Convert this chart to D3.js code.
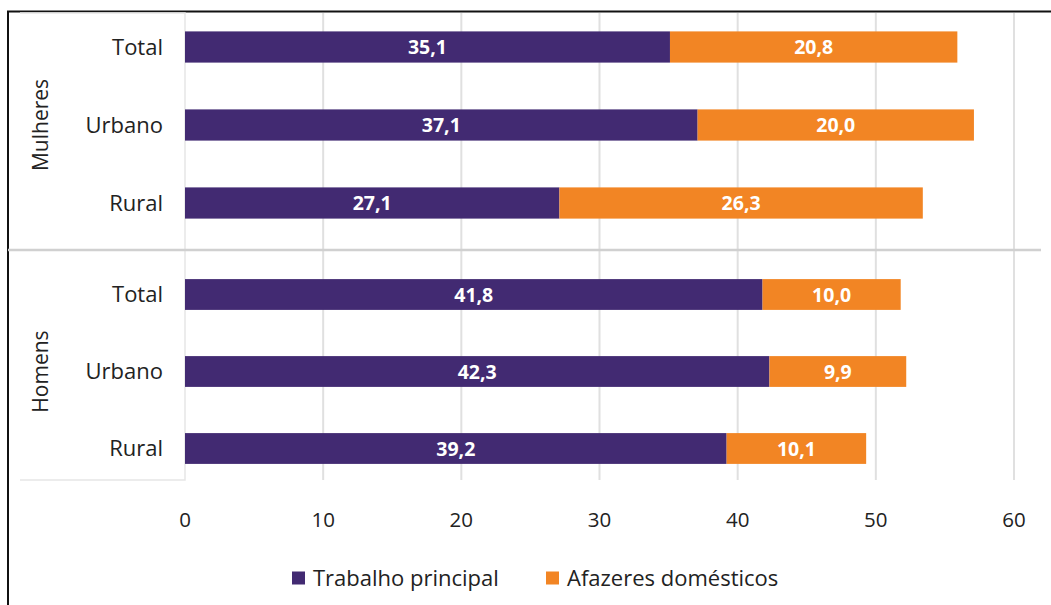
<!DOCTYPE html>
<html>
<head>
<meta charset="utf-8">
<script src="https://cdn.jsdelivr.net/npm/d3@7"></script>
<style>
    body { margin: 0; background: #fff; }
    svg { display: block; font-family: "Open Sans", "Noto Sans", sans-serif; }
</style>
</head>
<body>
<div id="chart"></div>
<script>
// data
var groups = ["Mulheres", "Homens"];
var categories = ["Total", "Urbano", "Rural"];
var trabalho = [35.1, 37.1, 27.1, 41.8, 42.3, 39.2];
var afazeres = [20.8, 20.0, 26.3, 10.0, 9.9, 10.1];
var xTicks = [0, 10, 20, 30, 40, 50, 60];
var seriesNames = ["Trabalho principal", "Afazeres domésticos"];
var colors = ["#422a72", "#f28524"];

var width = 1051, height = 605;
var plotTop = 13, plotBottom = 480, axisX = 185;
var groupRanges = [[8, 242], [256, 487]];
var textColor = "#222";

var ptBR = d3.formatLocale({ decimal: ",", thousands: ".", grouping: [3], currency: ["R$", ""] });
var fmt = ptBR.format(".1f");

var svg = d3.select("#chart").append("svg")
    .attr("width", width)
    .attr("height", height);

var x = d3.scaleLinear().domain([0, 60]).range([axisX, 1014]);

// frame (top + left border)
svg.append("path")
    .attr("d", "M8," + height + "V11.5H" + width)
    .attr("fill", "none")
    .attr("stroke", "#111")
    .attr("stroke-width", 2);

// vertical grid lines
svg.append("g").selectAll("line")
    .data(xTicks.slice(1))
    .join("line")
    .attr("x1", function (d) { return x(d); })
    .attr("x2", function (d) { return x(d); })
    .attr("y1", plotTop)
    .attr("y2", plotBottom)
    .attr("stroke", "#e0e0e0")
    .attr("stroke-width", 2);

// y axis line + left panel bottom
svg.append("path")
    .attr("d", "M20," + plotTop + "H" + axisX + "V" + plotBottom + "H20")
    .attr("fill", "none")
    .attr("stroke", "#e6e6e6")
    .attr("stroke-width", 1.5);

// group separator
svg.append("line")
    .attr("x1", 8).attr("x2", 1041)
    .attr("y1", 250).attr("y2", 250)
    .attr("stroke", "#d0d0d0")
    .attr("stroke-width", 2.5);

groups.forEach(function (g, gi) {
    var y = d3.scaleBand()
        .domain(categories)
        .range(groupRanges[gi])
        .paddingInner(0.6)
        .paddingOuter(0.3);

    var rows = categories.map(function (c, ci) {
        var k = gi * categories.length + ci;
        return { cat: c, a: trabalho[k], b: afazeres[k] };
    });

    var gEl = svg.append("g");

    // purple segment
    gEl.selectAll("rect.a")
        .data(rows)
        .join("rect")
        .attr("class", "a")
        .attr("x", x(0))
        .attr("y", function (d) { return y(d.cat); })
        .attr("width", function (d) { return x(d.a) - x(0); })
        .attr("height", y.bandwidth())
        .attr("fill", colors[0]);

    // orange segment
    gEl.selectAll("rect.b")
        .data(rows)
        .join("rect")
        .attr("class", "b")
        .attr("x", function (d) { return x(d.a); })
        .attr("y", function (d) { return y(d.cat); })
        .attr("width", function (d) { return x(d.a + d.b) - x(d.a); })
        .attr("height", y.bandwidth())
        .attr("fill", colors[1]);

    // value labels
    gEl.selectAll("text.va")
        .data(rows)
        .join("text")
        .attr("x", function (d) { return (x(0) + x(d.a)) / 2; })
        .attr("y", function (d) { return y(d.cat) + y.bandwidth() / 2; })
        .attr("dy", "0.36em")
        .attr("text-anchor", "middle")
        .attr("fill", "#fff")
        .attr("font-weight", "bold")
        .attr("font-size", 19.5)
        .text(function (d) { return fmt(d.a); });

    gEl.selectAll("text.vb")
        .data(rows)
        .join("text")
        .attr("x", function (d) { return (x(d.a) + x(d.a + d.b)) / 2; })
        .attr("y", function (d) { return y(d.cat) + y.bandwidth() / 2; })
        .attr("dy", "0.36em")
        .attr("text-anchor", "middle")
        .attr("fill", "#fff")
        .attr("font-weight", "bold")
        .attr("font-size", 19.5)
        .text(function (d) { return fmt(d.b); });

    // category labels
    gEl.selectAll("text.cat")
        .data(rows)
        .join("text")
        .attr("x", 163)
        .attr("y", function (d) { return y(d.cat) + y.bandwidth() / 2; })
        .attr("dy", "0.36em")
        .attr("text-anchor", "end")
        .attr("fill", textColor)
        .attr("font-size", 22)
        .text(function (d) { return d.cat; });

    // group label (rotated)
    var yc = (y(categories[0]) + y(categories[2]) + y.bandwidth()) / 2;
    gEl.append("text")
        .attr("transform", "translate(40," + yc + ") rotate(-90)")
        .attr("dy", "0.36em")
        .attr("text-anchor", "middle")
        .attr("fill", textColor)
        .attr("font-size", 21)
        .text(g);
});

// x axis tick labels
svg.append("g").selectAll("text")
    .data(xTicks)
    .join("text")
    .attr("x", function (d) { return x(d); })
    .attr("y", 520)
    .attr("dy", "0.36em")
    .attr("text-anchor", "middle")
    .attr("fill", textColor)
    .attr("font-size", 20.5)
    .text(function (d) { return d; });

// legend
var legendX = [292, 546];
var legend = svg.append("g").selectAll("g")
    .data(seriesNames)
    .join("g")
    .attr("transform", function (d, i) { return "translate(" + legendX[i] + ",578)"; });

legend.append("rect")
    .attr("x", 0).attr("y", -6.5)
    .attr("width", 13).attr("height", 13)
    .attr("fill", function (d, i) { return colors[i]; });

legend.append("text")
    .attr("x", 21)
    .attr("dy", "0.36em")
    .attr("fill", textColor)
    .attr("font-size", 22)
    .text(function (d) { return d; });
</script>
</body>
</html>
